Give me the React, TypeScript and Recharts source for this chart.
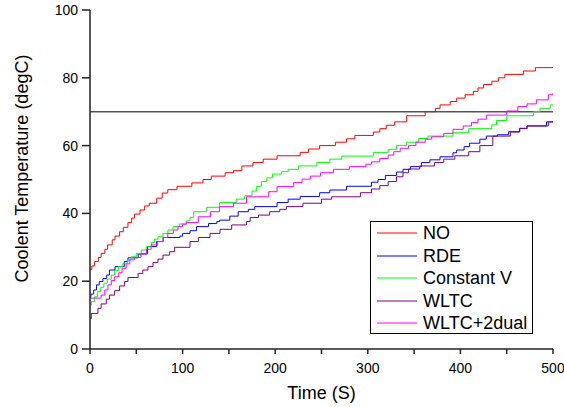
import React from 'react';
import { LineChart, Line, XAxis, YAxis, ReferenceLine, Legend } from 'recharts';

const FONT = '"Liberation Sans", Arial, sans-serif';

const xTicks = [0, 50, 100, 150, 200, 250, 300, 350, 400, 450, 500];
const yMajorTicks = [0, 20, 40, 60, 80, 100];
const yMinorTicks = [10, 30, 50, 70, 90];
const yAllTicks = [0, 10, 20, 30, 40, 50, 60, 70, 80, 90, 100];
const limitLine = 70;

const noTime = [0,2,5,9,12,16,19,24,27,32,36,41,45,48,54,59,64,72,78,84,94,110,122,131,146,155,164,176,187,202,227,236,248,265,277,286,306,313,320,329,342,362,373,378,389,396,405,414,419,425,434,441,448,468,481,500];
const noTemp = [23.5,24.5,25.8,27,28.2,29.4,30.7,32.2,33.3,34.6,35.9,37.3,38.6,39.8,41,42.2,43,44.5,46,47,48,49,50,51,52,52.6,54,55,56,57,58,59,60,61,62,63,64,65,66,67,68.8,70,71,72,73,74,75,76,77,78,79,80,81,82,83,83];

const rdeTime = [0,1,4,7,10,14,18,21,27,37,41,52,62,72,79,97,100,108,115,128,137,140,151,160,171,178,202,214,227,248,259,277,304,311,319,331,338,346,358,367,378,392,396,404,410,421,428,440,452,464,472,493,500];
const rdeTemp = [15.4,16.2,17.4,18.9,19.9,20.8,21.8,23.3,24.3,25.8,26.9,28,30.2,31.7,32.9,33.3,34.1,34.9,36.1,37,37.6,38,39.2,40.5,41.2,42,43.2,44.2,45,46.1,46.9,48,49.2,50,51.2,52.2,53,53.8,55,55.8,56.7,57.9,58.7,59.7,60.7,61.9,62.8,63.2,64.1,65.1,65.8,67,67];

const cvTime = [0,1.4,5,8,11.5,15,18.7,23,26.6,31,35.6,40.3,44.6,50,55.4,60.8,66.2,69.8,73.4,78.8,84.2,89.6,96.8,104,108,112,126,140,158,167,175,180,185,191,197,207,214,225,245,259,272,306,322,331,342,355,365,392,409,434,439,450,479,486,497,500];
const cvTemp = [13,14,15.4,16.9,18.2,19.4,20.6,21.8,23.1,24.3,25.3,26.3,27.2,28.2,29.2,30.2,31.4,32.4,33.1,34.1,35.1,36.1,36.9,37.8,38.8,40.5,41.8,43.2,44.2,45.2,46.6,48,49.4,50.5,51.6,52.3,53,54,55,56,56.9,58,58.9,60,61,62.1,62.8,63.8,65,66.1,67.4,68.8,70,71,72,72];

const wltcTime = [0,1.4,8.6,12,17.6,21,26.6,32,37.4,41,52,57,62.6,68,73.4,78.8,86,91.4,108,117,129.6,140.4,153,169,173,182,194,205,212,230,250,261,292,304,313,322,331,338,344,356,372,382,394,409,421,435,454,464,472,495,500];
const wltcTemp = [9,10.5,12,13.3,14.7,15.9,17.2,18.6,19.9,21.1,22.3,23.3,24.3,25.5,26.5,27.7,28.7,30,31.7,32.9,34.1,35.3,36.6,37.6,38.8,39.5,40.5,41.2,42,43,44.2,44.9,46.1,47.2,48.2,49.4,50.8,52,53.1,54,55,56,57,58.2,60,62.8,64,65,65.8,67,67];

const dualTime = [0,12,16,19.4,23,26.6,31,34.6,39,43,48,55,61,66,73,79,84,90,95,100,104,117,130,140,155,169,193,202,220,229,238,249,263,280,298,304,313,322,328,335,344,352,362,369,382,392,403,412,419,428,450,462,472,482,495,500];
const dualTemp = [15,15.9,17.4,18.9,20.2,21.3,22.5,23.8,25.1,26.3,27,28.2,29.4,30.7,31.7,32.9,34.1,35.1,36.1,36.8,37.3,39,40.5,42,43,44.9,46.4,47.9,49.1,50.1,51,52,53,53.8,54.5,55.2,56.2,57.2,58.2,59.2,60,61,61.9,62.6,63.6,64.8,65.8,66.8,67.8,69,70.2,71.5,72.3,73.5,75,75.5];

const build = (ts: number[], vs: number[]) => ts.map((t, i) => ({ t, v: vs[i] }));

const series = [
  { name: 'NO', color: '#ff0000', data: build(noTime, noTemp) },
  { name: 'RDE', color: '#0000ff', data: build(rdeTime, rdeTemp) },
  { name: 'Constant V', color: '#00ff00', data: build(cvTime, cvTemp) },
  { name: 'WLTC', color: '#800080', data: build(wltcTime, wltcTemp) },
  { name: 'WLTC+2dual', color: '#ff00ff', data: build(dualTime, dualTemp) },
];
const seriesOrder = series.map((s) => s.name);

const AXIS = '#222';

const renderLegend = (props: any) => {
  const payload = [...(props.payload || [])].sort(
    (a: any, b: any) => seriesOrder.indexOf(a.value) - seriesOrder.indexOf(b.value)
  );
  return (
    <div
      style={{
        width: 163,
        height: 113,
        border: '1px solid #000',
        boxSizing: 'border-box',
        background: '#fff',
        fontFamily: FONT,
        fontSize: 18,
        color: '#000',
      }}
    >
      {payload.map((entry: any) => (
        <div key={entry.value} style={{ display: 'flex', alignItems: 'center', height: 22.5 }}>
          <svg width={46} height={4} style={{ display: 'block' }}>
            <line x1={6} x2={46} y1={2} y2={2} stroke={entry.color} strokeWidth={1} />
          </svg>
          <span style={{ marginLeft: 6, lineHeight: '22.5px', whiteSpace: 'nowrap' }}>{entry.value}</span>
        </div>
      ))}
    </div>
  );
};

const renderYLabel = (props: any) => {
  const vb = props.viewBox || { x: 0, y: 10, width: 90, height: 339 };
  const cx = vb.x + 22;
  const cy = vb.y + vb.height / 2 - 11;
  return (
    <text
      x={cx}
      y={cy}
      transform={`rotate(-90 ${cx} ${cy})`}
      textAnchor="middle"
      dominantBaseline="central"
      fontFamily={FONT}
      fontSize={18}
      fill="#000"
    >
      Coolent Temperature (degC)
    </text>
  );
};

export default function App() {
  return (
    <div style={{ position: 'absolute', left: 0, top: 0 }}>
      <LineChart width={564} height={407} margin={{ top: 10, right: 11, bottom: 0, left: 0 }}>
        <XAxis
          xAxisId="bottom"
          dataKey="t"
          type="number"
          domain={[0, 500]}
          allowDataOverflow
          ticks={xTicks}
          interval={0}
          height={58}
          tickSize={5}
          tickMargin={9}
          stroke={AXIS}
          strokeWidth={1.5}
          tick={{ fill: '#000', fontSize: 14, fontFamily: FONT }}
          tickFormatter={(v: number) => (v % 100 === 0 ? String(v) : '')}
          label={{ value: 'Time (S)', position: 'insideBottom', offset: 8, fill: '#000', fontSize: 18, fontFamily: FONT }}
        />
        <XAxis
          xAxisId="top"
          orientation="top"
          dataKey="t"
          type="number"
          domain={[0, 500]}
          allowDataOverflow
          ticks={xTicks}
          interval={0}
          height={0}
          mirror
          tickSize={4}
          stroke={AXIS}
          strokeWidth={1.5}
          tickFormatter={() => ''}
        />
        <YAxis
          yAxisId="minor"
          type="number"
          domain={[0, 100]}
          allowDataOverflow
          ticks={yMinorTicks}
          interval={0}
          width={0}
          tickSize={5}
          stroke={AXIS}
          strokeWidth={1.5}
          tickFormatter={() => ''}
        />
        <YAxis
          yAxisId="left"
          type="number"
          domain={[0, 100]}
          allowDataOverflow
          ticks={yMajorTicks}
          interval={0}
          width={90}
          tickSize={8}
          tickMargin={4}
          stroke={AXIS}
          strokeWidth={1.5}
          tick={{ fill: '#000', fontSize: 14, fontFamily: FONT }}
          label={{ content: renderYLabel }}
        />
        <YAxis
          yAxisId="right"
          orientation="right"
          type="number"
          domain={[0, 100]}
          allowDataOverflow
          ticks={yAllTicks}
          interval={0}
          width={0}
          mirror
          tickSize={4}
          stroke={AXIS}
          strokeWidth={1.5}
          tickFormatter={() => ''}
        />
        <ReferenceLine xAxisId="bottom" yAxisId="left" y={limitLine} stroke="#555" strokeWidth={1.5} />
        {series.map((s) => (
          <Line
            key={s.name}
            xAxisId="bottom"
            yAxisId="left"
            data={s.data}
            dataKey="v"
            name={s.name}
            type="stepAfter"
            stroke={s.color}
            strokeWidth={1}
            dot={false}
            activeDot={false}
            isAnimationActive={false}
          />
        ))}
        <Legend
          layout="vertical"
          align="center"
          verticalAlign="middle"
          content={renderLegend}
          wrapperStyle={{ left: 370, top: 221, width: 163, height: 113 }}
        />
      </LineChart>
    </div>
  );
}
